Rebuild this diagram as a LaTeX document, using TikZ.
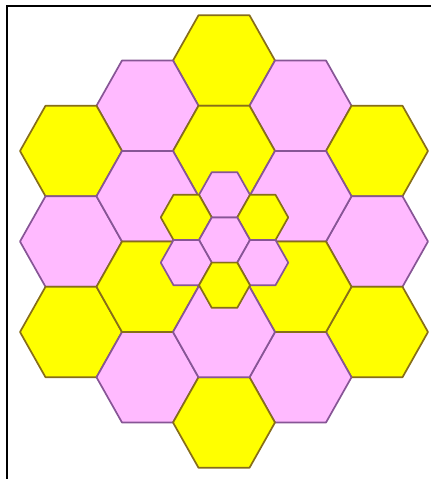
\documentclass[tikz,border=0pt]{standalone}
\usepackage{tikz}

\definecolor{hexyellow}{RGB}{255,255,0}
\definecolor{hexpink}{RGB}{255,186,255}
\definecolor{yellowedge}{RGB}{135,110,25}
\definecolor{pinkedge}{RGB}{135,85,150}

\tikzset{
  hexcell/.pic={\path[pic actions] (-1,0) -- (-0.5,1) -- (0.5,1) -- (1,0) -- (0.5,-1) -- (-0.5,-1) -- cycle;},
  bigcell/.style={xscale=51, yscale=45.25},
  smallcell/.style={xscale=25.5, yscale=22.6},
  yellowcell/.style={fill=hexyellow, draw=yellowedge, line width=1.7pt, line join=round},
  pinkcell/.style={fill=hexpink, draw=pinkedge, line width=1.7pt, line join=round},
  frameline/.style={draw=black, line width=2.4pt}
}

\begin{document}
\begin{tikzpicture}[x=1pt, y=-1pt]
      \useasboundingbox[fill=white] (0,0) rectangle (433,479);

      % outer ring of big cells
      \pic (y-top) [bigcell, yellowcell] at (224,60.5) {hexcell};
      \pic (p-top-l) [bigcell, pinkcell] at (147.5,105.75) {hexcell};
      \pic (p-top-r) [bigcell, pinkcell] at (300.5,105.75) {hexcell};
      \pic (y-up-l) [bigcell, yellowcell] at (71,151) {hexcell};
      \pic (y-up-r) [bigcell, yellowcell] at (377,151) {hexcell};
      \pic (p-mid-l) [bigcell, pinkcell] at (71,241.5) {hexcell};
      \pic (p-mid-r) [bigcell, pinkcell] at (377,241.5) {hexcell};
      \pic (y-low-l) [bigcell, yellowcell] at (71,332) {hexcell};
      \pic (y-low-r) [bigcell, yellowcell] at (377,332) {hexcell};
      \pic (p-bot-l) [bigcell, pinkcell] at (147.5,377.25) {hexcell};
      \pic (p-bot-r) [bigcell, pinkcell] at (300.5,377.25) {hexcell};
      \pic (y-bot) [bigcell, yellowcell] at (224,422.5) {hexcell};

      % inner ring of big cells
      \pic (y-in-top) [bigcell, yellowcell] at (224,151) {hexcell};
      \pic (p-in-l) [bigcell, pinkcell] at (147.5,196.25) {hexcell};
      \pic (p-in-r) [bigcell, pinkcell] at (300.5,196.25) {hexcell};
      \pic (y-in-l) [bigcell, yellowcell] at (147.5,286.75) {hexcell};
      \pic (y-in-r) [bigcell, yellowcell] at (300.5,286.75) {hexcell};
      \pic (p-in-bot) [bigcell, pinkcell] at (224,332) {hexcell};

      % small cells in the middle
      \pic (sp-top) [smallcell, pinkcell] at (224.5,194.8) {hexcell};
      \pic (sy-l) [smallcell, yellowcell] at (186.25,217.4) {hexcell};
      \pic (sy-r) [smallcell, yellowcell] at (262.75,217.4) {hexcell};
      \pic (sp-mid) [smallcell, pinkcell] at (224.5,240) {hexcell};
      \pic (sp-l) [smallcell, pinkcell] at (186.25,262.6) {hexcell};
      \pic (sp-r) [smallcell, pinkcell] at (262.75,262.6) {hexcell};
      \pic (sy-bot) [smallcell, yellowcell] at (224.5,285.2) {hexcell};

      \draw[frameline] (7,479) -- (7,6) -- (431,6);
    \end{tikzpicture}
\end{document}
